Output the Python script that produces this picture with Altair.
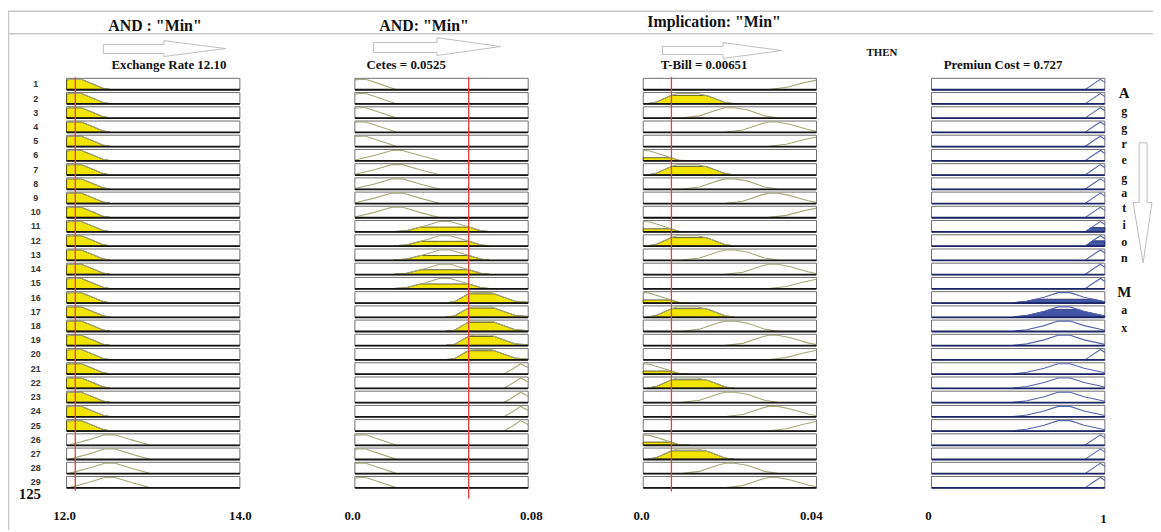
import altair as alt
import pandas as pd

# ---------------- data ----------------
rule_ids = list(range(1, 30))

er_range = [12.0, 14.0]
ce_range = [0.0, 0.08]
tb_range = [0.0, 0.04]
pc_range = [0.0, 1.0]
er_value = 12.10
ce_value = 0.0525
tb_value = 0.00651
pc_value = 0.727

# membership functions: breakpoints (value) and degree
er_low_x = [12.0, 12.04, 12.17, 12.30, 12.42, 12.50]
er_low_mu = [0.93, 1.0, 1.0, 0.55, 0.12, 0.0]
er_mid_x = [12.03, 12.25, 12.44, 12.56, 12.75, 12.96]
er_mid_mu = [0.0, 0.5, 1.0, 1.0, 0.5, 0.0]

ce_low_x = [0.0, 0.002, 0.005, 0.012, 0.019]
ce_low_mu = [0.95, 1.0, 1.0, 0.5, 0.0]
ce_mlow_x = [0.0, 0.009, 0.017, 0.022, 0.030, 0.039]
ce_mlow_mu = [0.05, 0.5, 1.0, 1.0, 0.5, 0.0]
ce_mhigh_x = [0.018, 0.024, 0.033, 0.039, 0.044, 0.052, 0.058, 0.062]
ce_mhigh_mu = [0.0, 0.1, 0.6, 1.0, 1.0, 0.5, 0.1, 0.0]
ce_high_x = [0.042, 0.046, 0.050, 0.053, 0.055, 0.063, 0.068, 0.074, 0.080]
ce_high_mu = [0.0, 0.1, 0.6, 0.95, 1.0, 1.0, 0.6, 0.15, 0.05]
ce_vhigh_x = [0.069, 0.073, 0.0765, 0.080]
ce_vhigh_mu = [0.0, 0.5, 1.0, 0.6]

tb_low_x = [0.0, 0.0015, 0.0045, 0.0083, 0.0105]
tb_low_mu = [1.0, 0.95, 0.55, 0.02, 0.0]
tb_t1_x = [0.001, 0.003, 0.0065, 0.0078, 0.0125, 0.015, 0.019, 0.021]
tb_t1_mu = [0.0, 0.15, 0.82, 1.0, 1.0, 0.75, 0.1, 0.0]
tb_t2_x = [0.009, 0.013, 0.0175, 0.019, 0.021, 0.024, 0.028, 0.031]
tb_t2_mu = [0.0, 0.2, 0.85, 1.0, 1.0, 0.8, 0.2, 0.0]
tb_t3_x = [0.019, 0.023, 0.0275, 0.029, 0.031, 0.034, 0.038, 0.040]
tb_t3_mu = [0.0, 0.2, 0.85, 1.0, 1.0, 0.75, 0.25, 0.08]
tb_high_x = [0.029, 0.033, 0.037, 0.040]
tb_high_mu = [0.0, 0.2, 0.65, 0.92]

pc_high_x = [0.888, 0.93, 0.974, 1.0]
pc_high_mu = [0.0, 0.5, 1.0, 0.7]
pc_med_x = [0.47, 0.55, 0.65, 0.73, 0.80, 0.88, 1.0]
pc_med_mu = [0.0, 0.15, 0.55, 1.0, 1.0, 0.55, 0.1]

# rules (MF used by each rule)
rule_er = ["low"] * 25 + ["mid"] * 4
rule_ce = ["low"] * 5 + ["mlow"] * 5 + ["mhigh"] * 5 + ["high"] * 5 + ["vhigh"] * 5 + ["low"] * 4
rule_tb = ["high", "t1", "t2", "t3", "high"] + ["low", "t1", "t2", "t3", "high"] * 4 + ["low", "t1", "t2", "t3"]
rule_pc = ["high"] * 15 + ["med"] * 4 + ["high"] + ["med"] * 5 + ["high"] * 4

# degrees shown as filled areas
er_deg = [1.0] * 25 + [0.0] * 4
ce_deg = [0.0] * 10 + [0.45] * 5 + [0.88] * 5 + [0.0] * 9
tb_deg = [0, .82, 0, 0, 0, .28, .82, 0, 0, 0, .28, .82, 0, 0, 0,
          .28, .82, 0, 0, 0, .28, .82, 0, 0, 0, .28, .82, 0, 0]
pc_deg = [0.0] * 10 + [0.4, 0.5] + [0.0] * 3 + [0.35, 0.75] + [0.0] * 12

# ---------------- geometry helpers ----------------
W, H = 1153, 524
X0, BOXW, COLSTEP = 67.0, 174.5, 290.33
Y0, ROWH, BOXH = 77.0, 14.32, 11.5
KSTEP = COLSTEP / BOXW
BASE, HMF = 0.78, 0.71


def pu(px):
    return (px - X0) / BOXW


def pv(py):
    return (py - Y0) / ROWH


xscale = alt.Scale(domain=[pu(8), pu(8 + W)], nice=False, zero=False)
yscale = alt.Scale(domain=[pv(8), pv(8 + H)], nice=False, zero=False, reverse=True)
X = lambda f="u": alt.X(f + ":Q", scale=xscale, axis=None)
Y = lambda f="v": alt.Y(f + ":Q", scale=yscale, axis=None)

columns = [
    dict(rng=er_range, rule=rule_er, deg=er_deg, kind="in",
         mfs={"low": (er_low_x, er_low_mu), "mid": (er_mid_x, er_mid_mu)}),
    dict(rng=ce_range, rule=rule_ce, deg=ce_deg, kind="in",
         mfs={"low": (ce_low_x, ce_low_mu), "mlow": (ce_mlow_x, ce_mlow_mu),
              "mhigh": (ce_mhigh_x, ce_mhigh_mu), "high": (ce_high_x, ce_high_mu),
              "vhigh": (ce_vhigh_x, ce_vhigh_mu)}),
    dict(rng=tb_range, rule=rule_tb, deg=tb_deg, kind="in",
         mfs={"low": (tb_low_x, tb_low_mu), "t1": (tb_t1_x, tb_t1_mu),
              "t2": (tb_t2_x, tb_t2_mu), "t3": (tb_t3_x, tb_t3_mu),
              "high": (tb_high_x, tb_high_mu)}),
    dict(rng=pc_range, rule=rule_pc, deg=pc_deg, kind="out",
         mfs={"high": (pc_high_x, pc_high_mu), "med": (pc_med_x, pc_med_mu)}),
]


def clip(us, mus, d):
    out = []
    for j in range(len(us)):
        if j > 0:
            m0, m1 = mus[j - 1], mus[j]
            if (m0 - d) * (m1 - d) < 0:
                t = (d - m0) / (m1 - m0)
                out.append((us[j - 1] + t * (us[j] - us[j - 1]), d))
        out.append((us[j], min(mus[j], d)))
    return out


lines, fills, boxes = [], [], []
for k, c in enumerate(columns):
    lo, hi = c["rng"]
    for i, r in enumerate(rule_ids):
        top = r - 1
        base = top + BASE
        xs, mus = c["mfs"][c["rule"][i]]
        us = [k * KSTEP + (x - lo) / (hi - lo) for x in xs]
        g = f"{k}-{r}"
        for j, (u, m) in enumerate(zip(us, mus)):
            lines.append(dict(g=g, kind=c["kind"], u=u, v=base - m * HMF, o=j))
        d = c["deg"][i]
        if d > 0:
            for j, (u, m) in enumerate(clip(us, mus, d)):
                fills.append(dict(g=g, kind=c["kind"], u=u, v=base - m * HMF, v2=base, o=j))
        boxes.append(dict(kind=c["kind"], u=k * KSTEP, u2=k * KSTEP + 1,
                          v=top, v2=top + BOXH / ROWH))

lines = pd.DataFrame(lines)
fills = pd.DataFrame(fills)
boxes = pd.DataFrame(boxes)

box_layer = alt.Chart(boxes).mark_rect(fill="white", stroke="#707070", strokeWidth=1).encode(
    x=X(), x2="u2:Q", y=Y(), y2="v2:Q")


def bottom(kind, col):
    return alt.Chart(boxes[boxes.kind == kind]).mark_rule(strokeWidth=1.8, color=col).encode(
        x=X(), x2="u2:Q", y=Y("v2"))


def fill(kind, col, edge):
    return alt.Chart(fills[fills.kind == kind]).mark_area(
        color=col, stroke=edge, strokeWidth=0.8).encode(
        x=X(), y=Y(), y2="v2:Q", detail="g:N")


def curve(kind, col):
    return alt.Chart(lines[lines.kind == kind]).mark_line(strokeWidth=1.1, color=col).encode(
        x=X(), y=Y(), detail="g:N", order="o:Q")


# red input lines
red = pd.DataFrame({
    "u": [0 * KSTEP + (er_value - er_range[0]) / (er_range[1] - er_range[0]),
          1 * KSTEP + (ce_value - ce_range[0]) / (ce_range[1] - ce_range[0]),
          2 * KSTEP + (tb_value - tb_range[0]) / (tb_range[1] - tb_range[0])],
    "v": [pv(76), pv(76), pv(76)],
    "v2": [pv(492), pv(500), pv(493)],
})
red_layer = alt.Chart(red).mark_rule(color="#ee3b3b", strokeWidth=1.3).encode(
    x=X(), y=Y(), y2="v2:Q")

# frame lines
frame = pd.DataFrame({
    "u": [pu(8), pu(8), pu(8.5)], "u2": [pu(1161), pu(1161), pu(8.5)],
    "v": [pv(9.5), pv(32), pv(9)], "v2": [pv(9.5), pv(32), pv(532)],
})
frame_layer = alt.Chart(frame).mark_rule(color="#c8c8c8", strokeWidth=1.5).encode(
    x=X(), x2="u2:Q", y=Y(), y2="v2:Q")

# outline arrows
arrow_px = {
    "a1": [(104, 43), (165, 43), (165, 39), (227, 47), (165, 55), (165, 52), (104, 52), (104, 43)],
    "a2": [(376, 41), (440, 41), (440, 36), (504, 45), (440, 54), (440, 51), (376, 51), (376, 41)],
    "a3": [(667, 45), (728, 45), (728, 41), (787, 49), (728, 57), (728, 53), (667, 53), (667, 45)],
    "a4": [(1147, 142), (1155, 142), (1155, 202), (1160, 202), (1151, 263), (1141, 202),
           (1147, 202), (1147, 142)],
}
arrows = pd.DataFrame([dict(g=g, o=j, u=pu(x), v=pv(y))
                       for g, pts in arrow_px.items() for j, (x, y) in enumerate(pts)])
arrow_layer = alt.Chart(arrows).mark_line(color="#bdbdbd", strokeWidth=1).encode(
    x=X(), y=Y(), detail="g:N", order="o:Q")

# texts
serif = [
    ('AND : "Min"', 156, 24, 16), ('AND: "Min"', 427, 24, 16),
    ('Implication: "Min"', 719, 20, 16), ("THEN", 888, 52, 11),
    (f"Exchange Rate {er_value:.2f}", 170, 64, 13), (f"Cetes = {ce_value}", 409, 64, 13),
    (f"T-Bill = {tb_value}", 709, 64, 13), (f"Premiun Cost = {pc_value}", 1010, 64, 13),
    ("125", 30, 496, 15),
    (f"{er_range[0]:.1f}", 65, 518, 13), (f"{er_range[1]:.1f}", 242, 518, 13),
    (f"{ce_range[0]:.1f}", 355, 518, 13), (f"{ce_range[1]:.2f}", 535, 518, 13),
    (f"{tb_range[0]:.1f}", 646, 518, 13), (f"{tb_range[1]:.2f}", 817, 518, 13),
    (f"{pc_range[0]:.0f}", 935, 518, 13), (f"{pc_range[1]:.0f}", 1111, 521, 13),
]
letters = list("Aggregation") + list("Max")
letter_y = [92, 110, 127, 143, 159, 177, 192, 208, 225, 242, 258, 292, 310, 328]
for ch, y in zip(letters, letter_y):
    serif.append((ch, 1132, y, 15 if ch in "AM" else 12))
serif_df = pd.DataFrame([dict(t=t, u=pu(x), v=pv(y), s=s) for t, x, y, s in serif])
serif_layer = alt.Chart(serif_df).mark_text(
    font="Liberation Serif", fontWeight="bold", color="#111", align="center", baseline="middle"
).encode(x=X(), y=Y(), text="t:N", size=alt.Size("s:Q", scale=None))

rows_df = pd.DataFrame({"t": [str(r) for r in rule_ids],
                        "u": [pu(36)] * len(rule_ids),
                        "v": [r - 1 + 0.42 for r in rule_ids]})
row_layer = alt.Chart(rows_df).mark_text(
    font="Liberation Sans", fontWeight="bold", fontSize=9, color="#333",
    align="center", baseline="middle").encode(x=X(), y=Y(), text="t:N")

chart = alt.layer(
    frame_layer, arrow_layer, box_layer,
    fill("in", "#f2e500", "#3b3b1a"), fill("out", "#4355a5", "#1c2566"),
    curve("in", "#a8a87a"), curve("out", "#5563b0"),
    bottom("in", "#151515"), bottom("out", "#1c2566"),
    red_layer, serif_layer, row_layer
).properties(
    width=W, height=H, padding=0, background="white",
    autosize=alt.AutoSizeParams(type="none"),
).configure_view(strokeWidth=0)

chart.save("out.html", embed_options={"renderer": "svg", "actions": False})
